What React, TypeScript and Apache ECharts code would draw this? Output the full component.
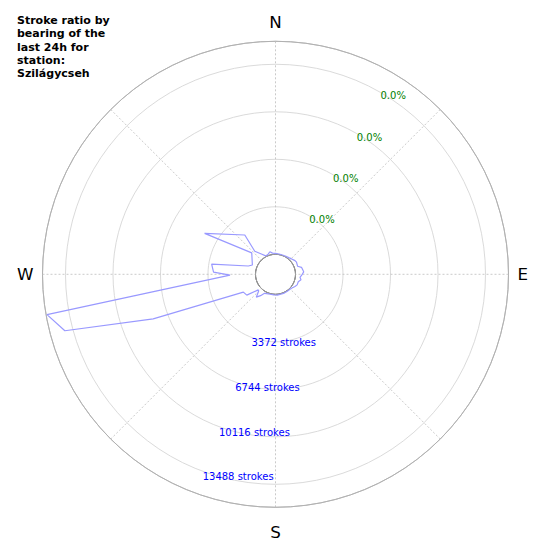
import React, { useEffect, useRef } from 'react';
import * as echarts from 'echarts';

const titleLines = ['Stroke ratio by', 'bearing of the', 'last 24h for', 'station:', 'Szilágycseh'];
const compassAngles = [0, 90, 180, 270];
const compassLabels = ['N', 'E', 'S', 'W'];
const compassStyles = ['n', 'e', 's', 'w'];
const strokeTicks = [3372, 6744, 10116, 13488];
const strokeTickLabels = ['3372 strokes', '6744 strokes', '10116 strokes', '13488 strokes'];
const ratioTickLabels = ['0.0%', '0.0%', '0.0%', '0.0%'];
const radiusMax = 15120;
const strokeLabelBearing = 200;
const ratioLabelBearing = 30;

// path order of the outline (bearing in degrees, stroke count)
const bearings = [
  0, 10, 20, 30, 40, 45, 55, 60, 70, 75, 85, 90, 97, 102, 108, 116, 122, 130, 136, 145,
  155, 165, 175, 185, 195, 205, 210, 215, 220, 225, 228, 234, 241, 250, 255, 260, 269,
  272, 279, 287, 292, 312, 300, 322, 318, 326, 332, 340, 346, 352, 360,
];
const strokes = [
  60, 40, 30, 60, 100, 150, 270, 300, 250, 490, 590, 480, 330, 430, 280, 290, 210, 100, 60, 40,
  50, 40, 60, 50, 40, 90, 140, 430, 700, 280, 230, 1100, 1190, 7820, 14060, 15050, 1810,
  2980, 3170, 600, 350, 850, 4390, 2120, 780, 300, 60, 100, 230, 100, 60,
];

export default function App() {
  const ref = useRef<HTMLDivElement>(null);
  useEffect(() => {
    if (!ref.current) return;
    const chart = echarts.init(ref.current, undefined, { renderer: 'svg' });
    const font = 'DejaVu Sans';
    const dirText = { fontSize: 16.7, color: '#000', fontFamily: font };
    chart.setOption({
      animation: false,
      textStyle: { fontFamily: font },
      title: {
        text: titleLines.join('\n'),
        left: 17,
        top: 14,
        padding: 0,
        textStyle: { fontSize: 11, fontWeight: 'bold', lineHeight: 13.3, color: '#000', fontFamily: font },
      },
      polar: { center: [275.5, 274.3], radius: [20, 233] },
      angleAxis: {
        type: 'value',
        min: 0,
        max: 360,
        interval: 45,
        startAngle: 90,
        clockwise: true,
        axisLine: { show: true, lineStyle: { color: '#b0b0b0', width: 0.9 } },
        axisTick: { show: false },
        axisLabel: {
          show: true,
          margin: 9,
          fontSize: 16.7,
          color: '#000',
          fontFamily: font,
          formatter: (v: number) => {
            const i = compassAngles.indexOf(v);
            return i >= 0 ? `{${compassStyles[i]}|${compassLabels[i]}}` : '';
          },
          rich: {
            n: { ...dirText, padding: [0, 0, 2, 0] },
            e: { ...dirText, padding: [0, 0, 0, 0] },
            s: { ...dirText, padding: [7, 0, 0, 0] },
            w: { ...dirText, padding: [0, 0, 0, 0] },
          },
        },
        splitLine: { show: true, lineStyle: { color: '#bdbdbd', width: 0.8, type: [2, 2] } },
      },
      radiusAxis: {
        type: 'value',
        min: 0,
        max: radiusMax,
        interval: 3372,
        axisLine: { show: false },
        axisTick: { show: false },
        axisLabel: { show: false },
        splitLine: {
          show: true,
          lineStyle: {
            color: ['#000000', '#d6d6d6', '#d6d6d6', '#d6d6d6', '#d6d6d6', '#b0b0b0'],
            width: 0.9,
          },
        },
      },
      series: [
        {
          type: 'line',
          coordinateSystem: 'polar',
          data: bearings.map((b, i) => [strokes[i], b]),
          showSymbol: false,
          symbol: 'none',
          silent: true,
          lineStyle: { color: '#9999ff', width: 1.2 },
        },
        {
          type: 'scatter',
          coordinateSystem: 'polar',
          symbolSize: 0,
          silent: true,
          itemStyle: { opacity: 1 },
          data: strokeTicks.map((v) => [v, strokeLabelBearing]),
          label: {
            show: true,
            position: 'right',
            distance: 0,
            offset: [-1, 5],
            color: '#0000ff',
            opacity: 1,
            fontSize: 10,
            fontFamily: font,
            formatter: (p: any) => strokeTickLabels[p.dataIndex],
          },
        },
        {
          type: 'scatter',
          coordinateSystem: 'polar',
          symbolSize: 0,
          silent: true,
          itemStyle: { opacity: 1 },
          data: strokeTicks.map((v) => [v, ratioLabelBearing]),
          label: {
            show: true,
            position: 'right',
            distance: 0,
            offset: [0, 3.5],
            color: '#008000',
            opacity: 1,
            fontSize: 10,
            fontFamily: font,
            formatter: (p: any) => ratioTickLabels[p.dataIndex],
          },
        },
      ],
    });
    return () => chart.dispose();
  }, []);
  return <div ref={ref} style={{ position: 'absolute', left: 0, top: 0, width: 550, height: 550 }} />;
}
